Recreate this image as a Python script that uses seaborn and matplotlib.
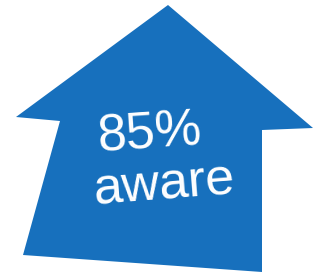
import matplotlib
matplotlib.use("Agg")
import matplotlib.pyplot as plt
import seaborn as sns

# contorno da seta (pixels da imagem, y para baixo)
seta_x = [168, 313, 262, 262, 23, 60, 16]
seta_y = [5, 128, 130, 272, 255, 121, 117]

# textos
valor = "85%"
rotulo = "aware"

sns.set_style("white")
plt.rcParams['font.family'] = ['Liberation Sans', 'DejaVu Sans']

fig = plt.figure(figsize=(3.13, 2.78), dpi=100)
ax = fig.add_axes([0, 0, 1, 1])
ax.fill(seta_x, seta_y, color="#1770bd", linewidth=0)

ax.text(151, 148, valor, color="white", fontsize=37.5, ha="center", va="baseline",
        rotation=4, rotation_mode="anchor")
ax.text(165, 199, rotulo, color="white", fontsize=37.5, ha="center", va="baseline",
        rotation=4.5, rotation_mode="anchor")

ax.set_xlim(0, 313)
ax.set_ylim(278, 0)
ax.axis("off")
fig.savefig("out.png", dpi=100, facecolor="white")
